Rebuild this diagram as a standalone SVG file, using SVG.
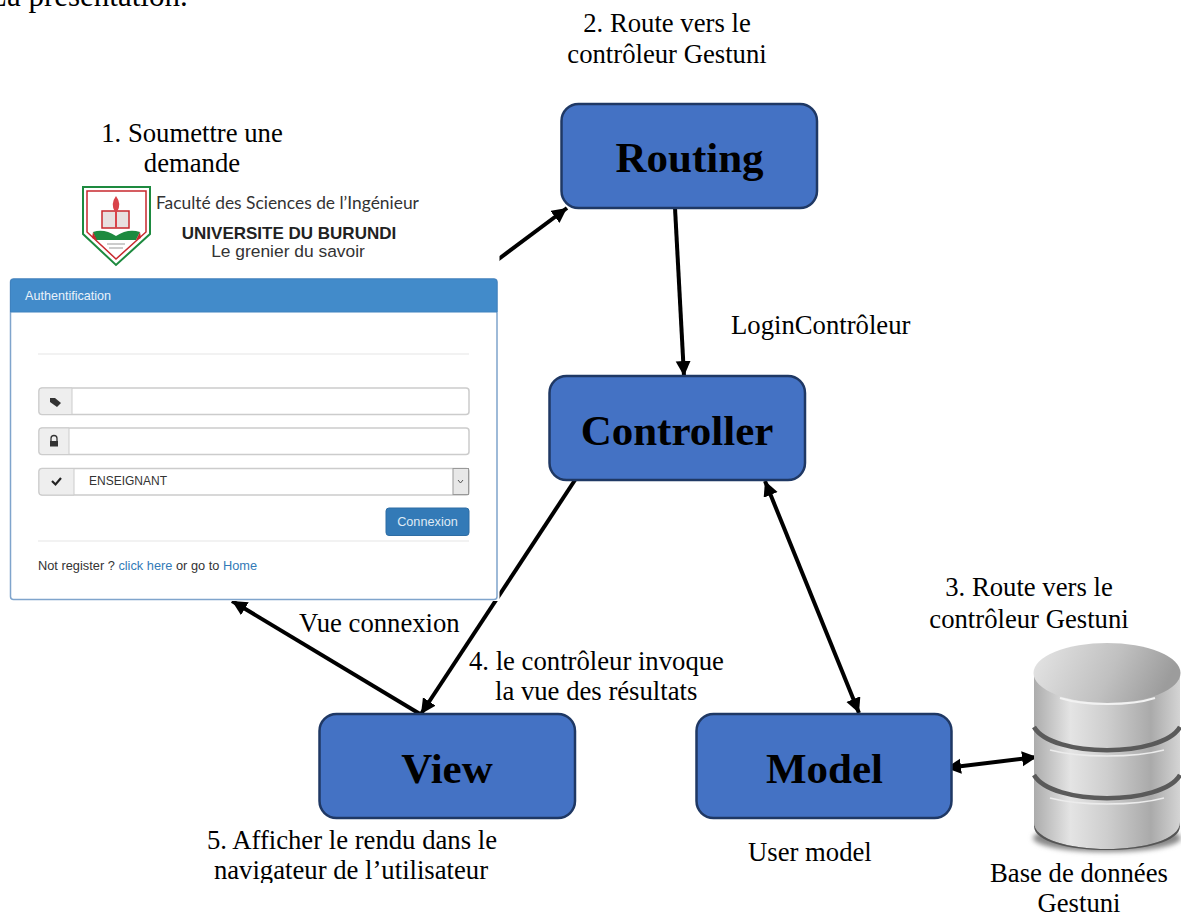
<svg xmlns="http://www.w3.org/2000/svg" width="1181" height="913" viewBox="0 0 1181 913">
<style>
.t{font-family:"Liberation Serif","Times New Roman",serif;font-size:26.7px;fill:#000}
.n{fill:#4472c4;stroke:#1f3864;stroke-width:2.5}
.h{font-family:"Liberation Serif","Times New Roman",serif;font-size:43px;font-weight:bold;fill:#000;text-anchor:middle}
.c{stroke:#000;stroke-width:4;fill:none}
.s{font-family:"Liberation Sans",Arial,sans-serif;font-size:12.800px;fill:#333}
.f{fill:#fff;stroke:#ccc;stroke-width:1.5}
.a{fill:#eee;stroke:#ccc;stroke-width:1}
.l{fill:#337ab7}
</style>
<defs>
<marker id="e" markerUnits="userSpaceOnUse" markerWidth="18" markerHeight="16" refX="15" refY="7.500" orient="auto-start-reverse"><path d="M0,0 L15,7.500 L0,15 Z" fill="#000"/></marker>
<linearGradient id="cy" x1="0" x2="1" y1="0" y2="0"><stop offset="0" stop-color="#acacac"/><stop offset=".25" stop-color="#e4e4e4"/><stop offset=".5" stop-color="#cecece"/><stop offset=".8" stop-color="#aaaaaa"/><stop offset="1" stop-color="#d4d4d4"/></linearGradient>
<linearGradient id="ct" x1="0" x2="1" y1="0" y2=".2"><stop offset="0" stop-color="#e6e6e6"/><stop offset=".6" stop-color="#c0c0c0"/><stop offset="1" stop-color="#9c9c9c"/></linearGradient>
<filter id="b" x="-20%" y="-20%" width="140%" height="140%"><feGaussianBlur stdDeviation="2.500"/></filter>
</defs>

<text class="t" x="-12" y="6" style="font-size:31px">La présentation.</text>

<g id="connectors">
<line class="c" x1="490" y1="265.500" x2="567" y2="208" marker-end="url(#e)"/>
<line class="c" x1="675" y1="208" x2="684" y2="376" marker-end="url(#e)"/>
<line class="c" x1="575" y1="480" x2="421" y2="714" marker-end="url(#e)"/>
<line class="c" x1="420" y1="714" x2="232" y2="601" marker-end="url(#e)"/>
<line class="c" x1="765" y1="481" x2="859" y2="713" marker-start="url(#e)" marker-end="url(#e)"/>
<line class="c" x1="946" y1="768" x2="1037" y2="757" marker-start="url(#e)" marker-end="url(#e)"/>
</g>

<g id="form">
<rect x="0" y="180" width="499.500" height="421" fill="#fff"/>
<g id="logo">
<path d="M83,187 H150 V234 L116,265 L83,234 Z" fill="#fff" stroke="#1d8a3f" stroke-width="2"/>
<path d="M87,191 H146 V232 L116,259 L87,232 Z" fill="#fff" stroke="#c8282e" stroke-width="1.500"/>
<path d="M102,211 H129 V228 H102 Z" fill="#e8e0e0" stroke="#c8282e" stroke-width="1.500"/>
<path d="M116,196 Q110,204 115,212 V228 H117 V212 Q122,204 116,196 Z" fill="#d9434a"/>
<path d="M93,232 Q104,228 116,236 Q128,228 140,232 L136,240 H96 Z" fill="#1d8a3f"/>
<path d="M93,232 L97,240 L92,238 Z M140,232 L136,240 L141,238 Z" fill="#c8282e"/>
<path d="M107,244 H125 M109,248 H123" stroke="#999" stroke-width="1"/>
</g>
<text x="156" y="209" font-family="Lato,'Open Sans',sans-serif" font-size="17.400" fill="#333">Faculté des Sciences de l’Ingénieur</text>
<text x="289" y="238.500" text-anchor="middle" font-family="Liberation Sans,Arial,sans-serif" font-size="17" font-weight="bold" fill="#222">UNIVERSITE DU BURUNDI</text>
<text x="288" y="256.500" text-anchor="middle" font-family="Liberation Sans,Arial,sans-serif" font-size="17.400" fill="#333">Le grenier du savoir</text>

<rect x="10.500" y="279" width="486.500" height="320.500" rx="3" fill="#fff" stroke="#7fa4cc" stroke-width="1.500"/>
<path d="M10.500,312 V282 a3,3 0 0 1 3,-3 H494 a3,3 0 0 1 3,3 V312 Z" fill="#428bca" stroke="#3f82bf"/>
<text x="25" y="300" font-family="Liberation Sans,Arial,sans-serif" font-size="12.600" fill="#eaf2fa">Authentification</text>
<line x1="38" y1="354" x2="469" y2="354" stroke="#eee" stroke-width="1.500"/>
<rect class="f" x="39" y="388" width="430" height="26.500" rx="3"/>
<path class="a" d="M72,388 H42 a3,3 0 0 0 -3,3 V411.500 a3,3 0 0 0 3,3 H72 Z"/>
<path d="M50,398 L55,398 L61,403 L57,407 L50,402 Z" fill="#333"/>
<rect class="f" x="39" y="428" width="430" height="26.500" rx="3"/>
<path class="a" d="M69,428 H42 a3,3 0 0 0 -3,3 V451.500 a3,3 0 0 0 3,3 H69 Z"/>
<path d="M51,441 V438.500 a3,3 0 0 1 6,0 V441" fill="none" stroke="#333" stroke-width="1.300"/><rect x="50" y="441" width="8" height="5.500" fill="#333"/>
<rect class="f" x="39" y="468.500" width="430" height="26.500" rx="3"/>
<path class="a" d="M74,468.500 H42 a3,3 0 0 0 -3,3 V492 a3,3 0 0 0 3,3 H74 Z"/>
<path d="M52,481 L55.500,484.500 L61,478" fill="none" stroke="#222" stroke-width="2.200"/>
<text class="s" x="89" y="485" style="font-size:12px">ENSEIGNANT</text>
<rect x="453" y="468.500" width="15.500" height="26" fill="#e8e8e8" stroke="#999"/>
<path d="M458,480 L460.500,483 L463,480" fill="none" stroke="#555"/>
<rect x="386" y="508" width="83" height="27.500" rx="3" fill="#337ab7" stroke="#2e6da4"/>
<text x="427.500" y="526" text-anchor="middle" font-family="Liberation Sans,Arial,sans-serif" font-size="12.700" fill="#dfeaf5">Connexion</text>
<line x1="38" y1="541" x2="469" y2="541" stroke="#eee" stroke-width="1.500"/>
<text class="s" x="38" y="570">Not register ? <tspan class="l">click here</tspan> or go to <tspan class="l">Home</tspan></text>
</g>

<g id="routing"><rect class="n" x="561.500" y="104" width="255.500" height="104" rx="17"/><text class="h" x="689.500" y="172">Routing</text></g>
<g id="controller"><rect class="n" x="549.500" y="376" width="255.500" height="104" rx="17"/><text class="h" x="677" y="445">Controller</text></g>
<g id="view"><rect class="n" x="319.500" y="714" width="255.500" height="104" rx="17"/><text class="h" x="447" y="783">View</text></g>
<g id="model"><rect class="n" x="696.500" y="714" width="255" height="104" rx="17"/><text class="h" x="824.500" y="783">Model</text></g>

<g id="database">
<ellipse cx="1107" cy="838" rx="74" ry="14" fill="#888" filter="url(#b)"/>
<path d="M1034,676 V822 C1034,858 1180,858 1180,822 V676 Z" fill="url(#cy)"/>
<path d="M1034,822 C1034,858 1180,858 1180,822 V826 C1180,858 1034,858 1034,826 Z" fill="#555"/>
<path d="M1034,727 C1052,758 1162,758 1180,727" fill="none" stroke="#5a5a5a" stroke-width="4.500"/>
<path d="M1050,750 C1080,758 1134,758 1164,750" fill="none" stroke="#ececec" stroke-width="1.500"/>
<path d="M1034,775 C1052,806 1162,806 1180,775" fill="none" stroke="#5a5a5a" stroke-width="4.500"/>
<path d="M1050,798 C1080,806 1134,806 1164,798" fill="none" stroke="#ececec" stroke-width="1.500"/>
<ellipse cx="1107" cy="673" rx="73.500" ry="30" fill="url(#ct)"/>
<path d="M1060,698 C1085,706 1130,706 1155,698" fill="none" stroke="#f2f2f2" stroke-width="2"/>
</g>

<g id="labels">
<text class="t" x="667" y="32" text-anchor="middle">2. Route vers le</text>
<text class="t" x="667" y="63" text-anchor="middle">contrôleur Gestuni</text>
<text class="t" x="192" y="142" text-anchor="middle">1. Soumettre une</text>
<text class="t" x="192" y="172" text-anchor="middle">demande</text>
<text class="t" x="731" y="334">LoginContrôleur</text>
<text class="t" x="299" y="632">Vue connexion</text>
<text class="t" x="469" y="670">4. le contrôleur invoque</text>
<text class="t" x="495" y="700">la vue des résultats</text>
<text class="t" x="1029" y="596" text-anchor="middle">3. Route vers le</text>
<text class="t" x="1029" y="628" text-anchor="middle">contrôleur Gestuni</text>
<text class="t" x="352" y="849" text-anchor="middle">5. Afficher le rendu dans le</text>
<text class="t" x="351" y="879" text-anchor="middle">navigateur de l’utilisateur</text>
<rect x="200" y="883" width="310" height="10" fill="#fff"/>
<text class="t" x="748" y="861">User model</text>
<text class="t" x="1079" y="882" text-anchor="middle">Base de données</text>
<text class="t" x="1079" y="912" text-anchor="middle">Gestuni</text>
</g>
</svg>
